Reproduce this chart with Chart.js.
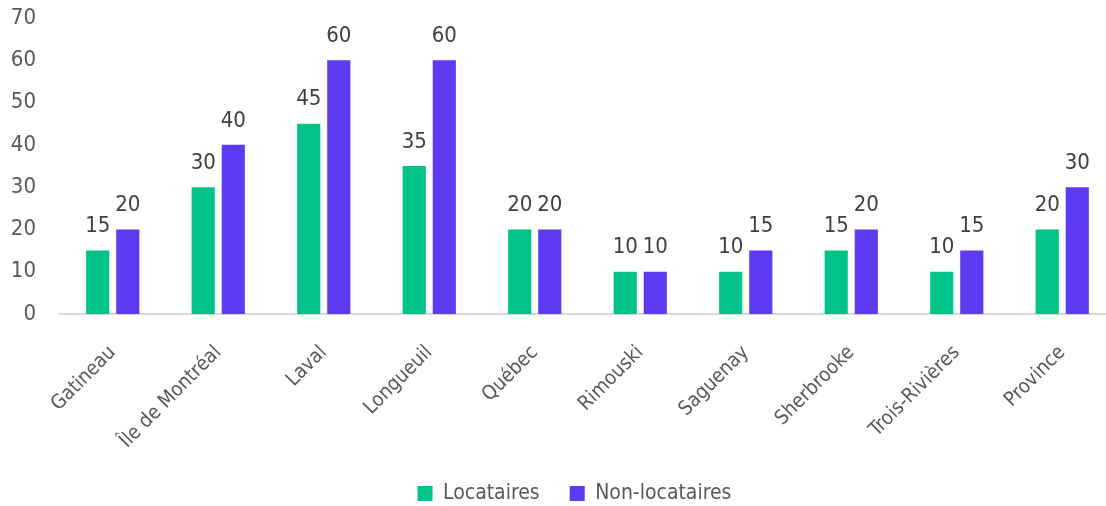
<!DOCTYPE html>
<html>
<head>
<meta charset="utf-8">
<script src="https://cdn.jsdelivr.net/npm/chart.js@4.4.1/dist/chart.umd.min.js"></script>
<style>
  html, body { margin: 0; padding: 0; background: #ffffff; overflow: hidden; }
  #wrap { width: 1149px; height: 506px; position: relative; }
</style>
</head>
<body>
<div id="wrap"><canvas id="c"></canvas></div>
<script>
const categories = ["Gatineau", "Île de Montréal", "Laval", "Longueuil", "Québec", "Rimouski", "Saguenay", "Sherbrooke", "Trois-Rivières", "Province"];
const locataires = [15, 30, 45, 35, 20, 10, 10, 15, 10, 20];
const nonLocataires = [20, 40, 60, 60, 20, 10, 15, 20, 15, 30];
const seriesNames = ["Locataires", "Non-locataires"];
const yTicks = [0, 10, 20, 30, 40, 50, 60, 70];

const FONT = "'DejaVu Sans Condensed', 'Liberation Sans Narrow', 'Roboto', sans-serif";

const valueLabels = {
  id: 'valueLabels',
  afterDatasetsDraw(chart) {
    const ctx = chart.ctx;
    ctx.save();
    ctx.font = "22px " + FONT;
    ctx.fillStyle = '#404040';
    ctx.textAlign = 'center';
    ctx.textBaseline = 'bottom';
    chart.data.datasets.forEach((ds, i) => {
      const meta = chart.getDatasetMeta(i);
      meta.data.forEach((el, j) => {
        ctx.fillText(String(ds.data[j]), el.x, el.y - 13);
      });
    });
    ctx.restore();
  }
};

// centre the legend on the full canvas width rather than the padded area
const legendShift = {
  id: 'legendShift',
  afterLayout(chart) {
    const lg = chart.legend;
    if (!lg) return;
    const shift = (chart.width - (lg.left + lg.right)) / 2;
    lg.left += shift;
    lg.right += shift;
  }
};

new Chart(document.getElementById('c'), {
  type: 'bar',
  data: {
    labels: categories,
    datasets: [
      { label: seriesNames[0], data: locataires, backgroundColor: '#00C389', borderWidth: 0,
        categoryPercentage: 0.57, barPercentage: 0.77 },
      { label: seriesNames[1], data: nonLocataires, backgroundColor: '#5E3BF2', borderWidth: 0,
        categoryPercentage: 0.57, barPercentage: 0.77 }
    ]
  },
  options: {
    responsive: true,
    maintainAspectRatio: false,
    animation: false,
    layout: { padding: { top: 0, right: 34, left: 0, bottom: -8 } },
    plugins: {
      legend: {
        position: 'bottom',
        labels: {
          font: { family: FONT, size: 21 },
          color: '#595959',
          boxWidth: 15,
          boxHeight: 15,
          padding: 30
        }
      },
      tooltip: { enabled: false }
    },
    scales: {
      x: {
        grid: { display: false },
        border: { display: true, color: '#d9d9d9', width: 2 },
        afterFit(scale) { scale.height = scale.height - 19; },
        ticks: {
          font: { family: FONT, size: 20 },
          color: '#595959',
          maxRotation: 45,
          minRotation: 45,
          padding: 19,
          autoSkip: false
        }
      },
      y: {
        min: 0,
        max: 70,
        afterBuildTicks(scale) { scale.ticks = yTicks.map(v => ({ value: v })); },
        afterFit(scale) { scale.width = 60; scale.paddingTop = 18; },
        grid: { display: false },
        border: { display: false },
        ticks: {
          font: { family: FONT, size: 22 },
          color: '#595959',
          padding: 16
        }
      }
    }
  },
  plugins: [valueLabels, legendShift]
});
</script>
</body>
</html>
